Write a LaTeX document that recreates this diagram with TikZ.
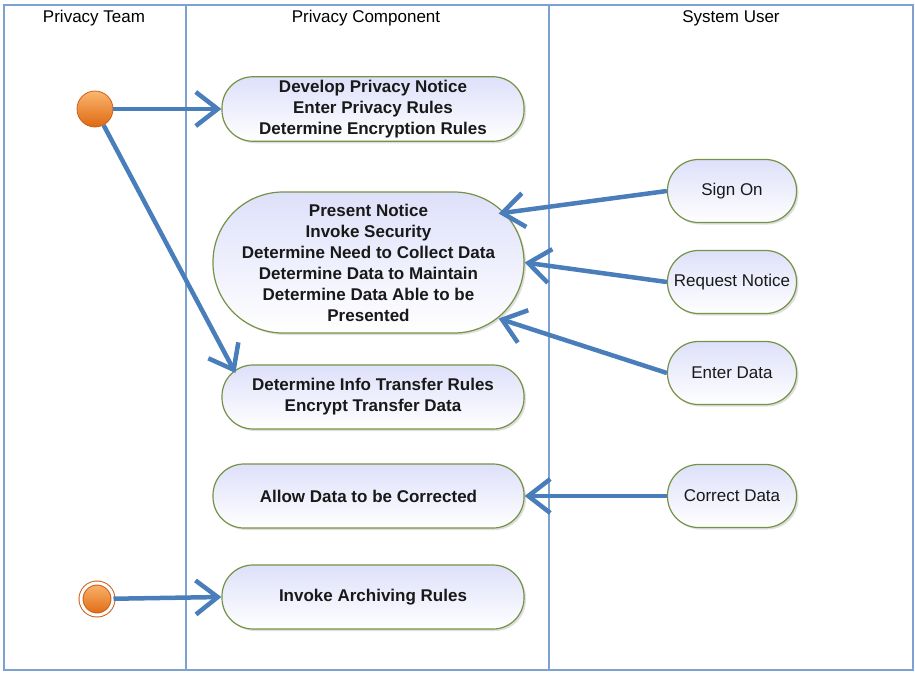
\documentclass[tikz,border=0pt]{standalone}
\usepackage{fontspec}
\setmainfont{Liberation Sans}
\usetikzlibrary{arrows.meta,calc,shadows}
\definecolor{lane}{RGB}{126,162,208}
\definecolor{flow}{RGB}{74,126,187}
\definecolor{rim}{RGB}{118,146,70}
\definecolor{lilac}{RGB}{222,224,250}
\definecolor{ortop}{RGB}{250,182,110}
\definecolor{orbot}{RGB}{222,104,18}
\definecolor{orrim}{RGB}{205,95,25}
\begin{document}
\begin{tikzpicture}[x=1pt,y=-1pt,
  >={Straight Barb[length=22pt,width=34pt]},
  font=\fontsize{17}{21}\selectfont,
  act/.style={rectangle,rounded corners=31pt,draw=rim,line width=1.2pt,
    top color=lilac,bottom color=white,align=center,text=black!90,
    font=\fontsize{17}{21}\selectfont\bfseries,
    minimum width=302pt,minimum height=64pt,
    drop shadow={shadow xshift=2pt,shadow yshift=-2pt,opacity=0.25}},
  usr/.style={act,font=\fontsize{17}{21}\selectfont,minimum width=129pt,minimum height=63pt},
  flowline/.style={->,draw=flow,line width=4.5pt},
  dot/.style={circle,minimum size=36pt,inner sep=0pt,draw=orrim,line width=0.8pt,
    top color=ortop,bottom color=orbot}]
\useasboundingbox (0,0) rectangle (915,672);
% swimlanes
\draw[lane,line width=1.5pt] (4,5) rectangle (913,670);
\draw[lane,line width=1.5pt] (186,5) -- (186,670);
\draw[lane,line width=1.5pt] (549,5) -- (549,670);
\node (team) at (94,18) {Privacy Team};
\node (comp) at (366,18) {Privacy Component};
\node (user) at (731,18) {System User};
% start and end
\node[dot] (start) at (95,109) {};
\node[dot,minimum size=32pt,line width=1pt,double=white,double distance=3pt] (stop) at (97,599) {};
% activities
\node[act] (notice) at (373,109) {Develop Privacy Notice\\Enter Privacy Rules\\Determine Encryption Rules};
\node[act,minimum width=311pt,minimum height=141pt,rounded corners=70pt] (present) at (368.5,262.5)
  {Present Notice\\Invoke Security\\Determine Need to Collect Data\\Determine Data to Maintain\\Determine Data Able to be\\Presented};
\node[act] (transfer) at (373,397) {Determine Info Transfer Rules\\Encrypt Transfer Data};
\node[act,minimum width=311pt] (correct) at (368.5,496) {Allow Data to be Corrected};
\node[act] (archive) at (373,597) {Invoke Archiving Rules};
% user actions
\node[usr] (signon) at (732,191) {Sign On};
\node[usr] (request) at (732,282) {Request Notice};
\node[usr] (enter) at (732,373) {Enter Data};
\node[usr] (fix) at (732,496) {Correct Data};
% flows
\draw[flowline] (start) -- (notice.west);
\draw[flowline] (start) -- ($(transfer.west)+(14,-24)$);
\draw[flowline] (signon.west) -- ($(present.east)+(-26,-49)$);
\draw[flowline] (request.west) -- (present.east);
\draw[flowline] (enter.west) -- ($(present.east)+(-26,56)$);
\draw[flowline] (fix.west) -- (correct.east);
\draw[flowline] (stop) -- (archive.west);
\end{tikzpicture}
\end{document}
